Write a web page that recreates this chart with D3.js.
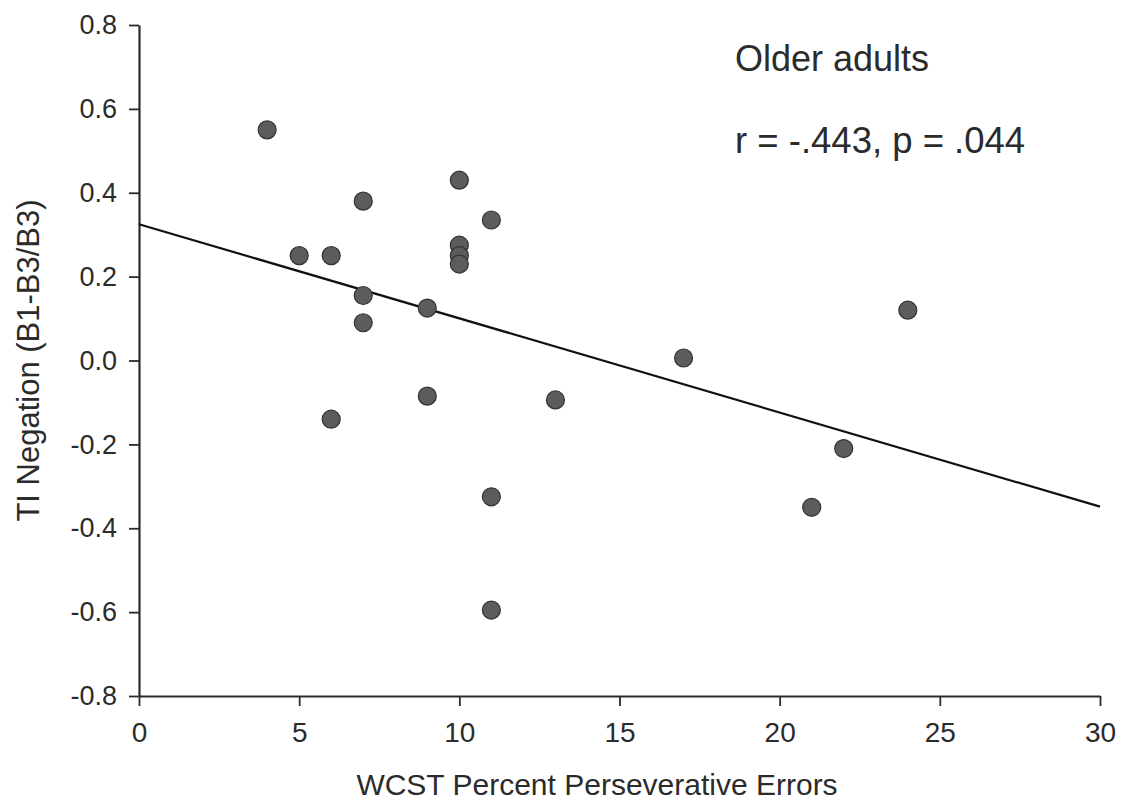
<!DOCTYPE html>
<html>
<head>
<meta charset="utf-8">
<script src="https://cdn.jsdelivr.net/npm/d3@7"></script>
<style>
  html, body { margin: 0; padding: 0; background: #fff; }
  svg { display: block; }
  text { font-family: "Liberation Sans", Arial, sans-serif; fill: #2b2b2b; }
</style>
</head>
<body>
<svg id="chart" width="1121" height="804"></svg>
<script>
// WCST percent perseverative errors per participant (older adults)
const wcstErrors = [4, 5, 6, 7, 7, 7, 6, 10, 11, 10, 10, 10, 9, 9, 13, 17, 11, 11, 24, 22, 21];
// TI negation score, (B1-B3)/B3, for the same participants
const tiNegation = [0.55, 0.25, 0.25, 0.38, 0.155, 0.09, -0.14, 0.43, 0.335, 0.275, 0.25, 0.23, 0.125, -0.085, -0.094, 0.006, -0.325, -0.595, 0.12, -0.21, -0.35];

// Least-squares fit line
const fitIntercept = 0.325;
const fitSlope = -0.02245;

const xTickValues = [0, 5, 10, 15, 20, 25, 30];
const xTickLabels = ["0", "5", "10", "15", "20", "25", "30"];
const yTickValues = [0.8, 0.6, 0.4, 0.2, 0.0, -0.2, -0.4, -0.6, -0.8];
const yTickLabels = ["0.8", "0.6", "0.4", "0.2", "0.0", "-0.2", "-0.4", "-0.6", "-0.8"];

const groupLabel = "Older adults";
const statLabel = "r = -.443, p = .044";
const xTitle = "WCST Percent Perseverative Errors";
const yTitle = "TI Negation (B1-B3/B3)";

const svg = d3.select("#chart");
const x = d3.scaleLinear().domain([0, 30]).range([139, 1100]);
const y = d3.scaleLinear().domain([-0.8, 0.8]).range([696, 25]);

const ink = "#2b2b2b";

// X axis
const xAxis = svg.append("g")
  .attr("transform", `translate(0,${y(-0.8)})`)
  .call(d3.axisBottom(x)
    .tickValues(xTickValues)
    .tickFormat((d, i) => xTickLabels[i])
    .tickSize(10)
    .tickSizeOuter(0)
    .tickPadding(16));
xAxis.select(".domain").attr("stroke", ink).attr("stroke-width", 2.2);
xAxis.selectAll(".tick line").attr("stroke", ink).attr("stroke-width", 1.8);
xAxis.selectAll(".tick text")
  .attr("font-size", 28)
  .attr("font-family", "Liberation Sans, Arial, sans-serif")
  .attr("fill", ink);

// Y axis
const yAxis = svg.append("g")
  .attr("transform", `translate(${x(0)},0)`)
  .call(d3.axisLeft(y)
    .tickValues(yTickValues)
    .tickFormat((d, i) => yTickLabels[i])
    .tickSize(10)
    .tickSizeOuter(0)
    .tickPadding(12));
yAxis.select(".domain").attr("stroke", ink).attr("stroke-width", 2.2);
yAxis.selectAll(".tick text")
  .attr("font-size", 27)
  .attr("font-family", "Liberation Sans, Arial, sans-serif")
  .attr("fill", ink);
yAxis.selectAll(".tick line").attr("stroke", ink).attr("stroke-width", 1.8);

// Regression line across the full x range
const fitLine = d3.line().x(d => x(d)).y(d => y(fitIntercept + fitSlope * d));
svg.append("path")
  .datum(x.domain())
  .attr("d", fitLine)
  .attr("fill", "none")
  .attr("stroke", "#111")
  .attr("stroke-width", 2.2);

// Data points
svg.append("g")
  .selectAll("circle")
  .data(wcstErrors.map((v, i) => ({ wcst: v, ti: tiNegation[i] })))
  .join("circle")
  .attr("cx", d => x(d.wcst))
  .attr("cy", d => y(d.ti))
  .attr("r", 9)
  .attr("fill", "#5c5c5c")
  .attr("stroke", "#333")
  .attr("stroke-width", 1.2);

// Annotations
svg.append("text")
  .attr("x", 735).attr("y", 71)
  .attr("font-size", 36)
  .text(groupLabel);
svg.append("text")
  .attr("x", 735).attr("y", 153)
  .attr("font-size", 36.5)
  .text(statLabel);

// Axis titles
svg.append("text")
  .attr("x", 597).attr("y", 795)
  .attr("text-anchor", "middle")
  .attr("font-size", 30)
  .text(xTitle);
svg.append("text")
  .attr("transform", `translate(39,${(y(0.8) + y(-0.8)) / 2}) rotate(-90)`)
  .attr("text-anchor", "middle")
  .attr("font-size", 31)
  .text(yTitle);
</script>
</body>
</html>
